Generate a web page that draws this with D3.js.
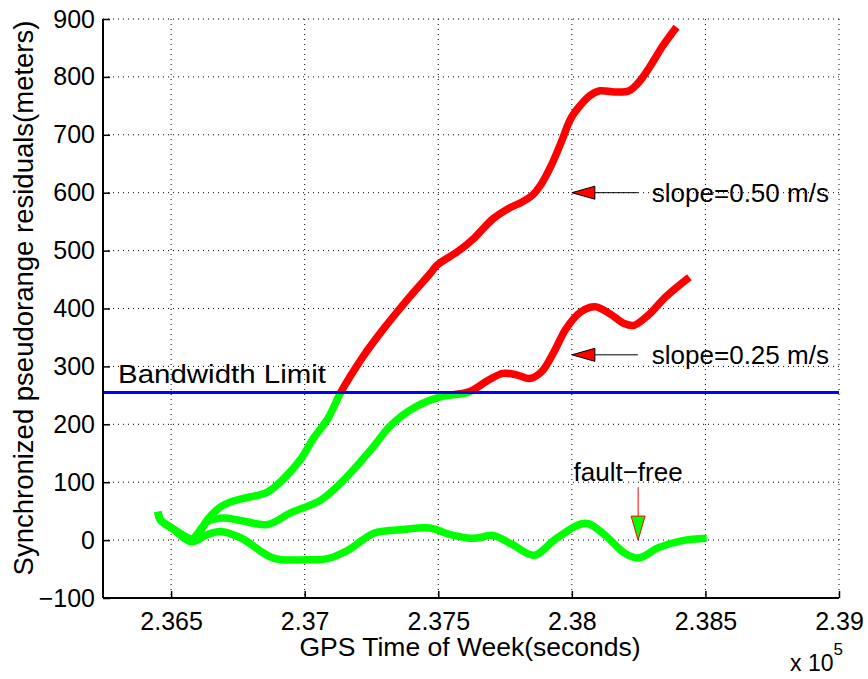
<!DOCTYPE html>
<html>
<head>
<meta charset="utf-8">
<script src="https://cdn.jsdelivr.net/npm/d3@7"></script>
<style>
  body { margin: 0; background: #fff; }
  svg text { font-family: "Liberation Sans", Arial, Helvetica, sans-serif; fill: #000; }
</style>
</head>
<body>
<div id="chart"></div>
<script>
// data (time in seconds of week, residual in meters)
var fastT = [236451, 236460, 236505, 236578, 236605, 236635, 236687, 236722, 236770, 236861, 236921, 236987, 237033, 237087, 237136, 237214, 237287, 237378, 237469, 237496, 237578, 237633, 237705, 237760, 237814, 237851, 237887, 237923, 237960, 237996, 238032, 238069, 238105, 238160, 238214, 238251, 238287, 238341, 238392];
var fastV = [49, 35, 20, 2, 12, 35, 58, 66, 72, 83, 106, 141, 176, 210, 256, 314, 360, 412, 460, 475, 500, 521, 555, 572, 584, 595, 616, 647, 687, 728, 751, 768, 776, 774, 776, 791, 814, 854, 886];

var slowT = [236451, 236460, 236505, 236578, 236600, 236635, 236695, 236760, 236861, 236947, 237060, 237147, 237251, 237324, 237414, 237505, 237614, 237687, 237742, 237796, 237842, 237887, 237933, 237978, 238033, 238087, 238142, 238196, 238233, 238287, 238351, 238440];
var slowV = [49, 35, 20, 2, 12, 32, 38, 34, 27, 47, 69, 104, 158, 199, 230, 247, 256, 276, 288, 285, 279, 291, 325, 365, 394, 403, 391, 374, 371, 389, 420, 454];

var freeT = [236451, 236460, 236505, 236575, 236633, 236684, 236760, 236883, 237011, 237086, 237160, 237259, 237360, 237469, 237542, 237633, 237705, 237778, 237860, 237942, 238051, 238123, 238196, 238251, 238324, 238414, 238505];
var freeV = [49, 35, 20, -3, 9, 15, 4, -31, -34, -32, -18, 12, 18, 21, 10, 3, 8, -8, -26, 3, 29, 9, -22, -31, -13, -1, 3];

var bandwidthLimit = 255;

var xTicks = [236500, 237000, 237500, 238000, 238500, 239000];
var yTicks = [-100, 0, 100, 200, 300, 400, 500, 600, 700, 800, 900];

// set the dimensions and margins of the graph
var margin = {top: 19, right: 29, bottom: 81, left: 103},
    width = 868 - margin.left - margin.right,
    height = 679 - margin.top - margin.bottom;

var svg = d3.select("#chart")
  .append("svg")
    .attr("width", 868)
    .attr("height", 679)
  .append("g")
    .attr("transform", "translate(" + margin.left + "," + margin.top + ")");

var x = d3.scaleLinear().domain([236245, 239000]).range([0, width]);
var y = d3.scaleLinear().domain([-100, 900]).range([height, 0]);

// dotted grid
svg.append("g")
  .selectAll("line")
  .data(xTicks)
  .enter().append("line")
    .attr("x1", function(d) { return x(d); })
    .attr("x2", function(d) { return x(d); })
    .attr("y1", 0).attr("y2", height)
    .attr("stroke", "#000").attr("stroke-width", 1)
    .attr("stroke-dasharray", "1,4");
svg.append("g")
  .selectAll("line")
  .data(yTicks)
  .enter().append("line")
    .attr("x1", 0).attr("x2", width)
    .attr("y1", function(d) { return y(d); })
    .attr("y2", function(d) { return y(d); })
    .attr("stroke", "#000").attr("stroke-width", 1)
    .attr("stroke-dasharray", "1,4");

// clip regions: red above the bandwidth limit, green below
var defs = svg.append("defs");
defs.append("clipPath").attr("id", "above")
  .append("rect").attr("x", -10).attr("y", -10)
  .attr("width", width + 20).attr("height", y(bandwidthLimit) + 10);
defs.append("clipPath").attr("id", "below")
  .append("rect").attr("x", -10).attr("y", y(bandwidthLimit))
  .attr("width", width + 20).attr("height", height - y(bandwidthLimit) + 10);

var line = d3.line()
  .x(function(d) { return x(d[0]); })
  .y(function(d) { return y(d[1]); })
  .curve(d3.curveCatmullRom);

var series = [d3.zip(freeT, freeV), d3.zip(slowT, slowV), d3.zip(fastT, fastV)];

series.forEach(function(s) {
  svg.append("path").datum(s)
    .attr("clip-path", "url(#below)")
    .attr("d", line)
    .attr("fill", "none").attr("stroke", "#00ff00")
    .attr("stroke-width", 7.5).attr("stroke-linejoin", "round");
  svg.append("path").datum(s)
    .attr("clip-path", "url(#above)")
    .attr("d", line)
    .attr("fill", "none").attr("stroke", "#ff0000")
    .attr("stroke-width", 7.5).attr("stroke-linejoin", "round");
});

// bandwidth limit line
svg.append("line")
  .attr("x1", 0).attr("x2", width)
  .attr("y1", y(bandwidthLimit)).attr("y2", y(bandwidthLimit))
  .attr("stroke", "#0000ff").attr("stroke-width", 3);

svg.append("text")
  .attr("x", 15).attr("y", y(bandwidthLimit) - 9)
  .style("font-size", "26px")
  .attr("textLength", 208).attr("lengthAdjust", "spacingAndGlyphs")
  .text("Bandwidth Limit");

// slope annotations
function slopeArrow(v, label) {
  var tx = x(238000), ty = y(v);
  svg.append("line")
    .attr("x1", tx + 22).attr("x2", tx + 66)
    .attr("y1", ty).attr("y2", ty)
    .attr("stroke", "#000").attr("stroke-width", 1);
  svg.append("path")
    .attr("d", "M" + tx + "," + ty + "L" + (tx + 23) + "," + (ty - 6.5) + "L" + (tx + 23) + "," + (ty + 6.5) + "Z")
    .attr("fill", "#ff0000").attr("stroke", "#000").attr("stroke-width", 1);
  svg.append("text")
    .attr("x", tx + 80).attr("y", ty + 9)
    .style("font-size", "26px")
    .text(label);
}
slopeArrow(600, "slope=0.50 m/s");
slopeArrow(320, "slope=0.25 m/s");

// fault-free annotation
var fx = x(238248), fy = y(0);
svg.append("line")
  .attr("x1", fx).attr("x2", fx)
  .attr("y1", fy - 53).attr("y2", fy - 24)
  .attr("stroke", "#ff0000").attr("stroke-width", 1);
svg.append("path")
  .attr("d", "M" + fx + "," + fy + "L" + (fx - 7) + "," + (fy - 24) + "L" + (fx + 7) + "," + (fy - 24) + "Z")
  .attr("fill", "#00ff00").attr("stroke", "#ff0000").attr("stroke-width", 1);
svg.append("text")
  .attr("x", fx - 10).attr("y", fy - 59)
  .attr("text-anchor", "middle")
  .style("font-size", "26px")
  .text("fault\u2212free");

// axes: left and bottom only, ticks pointing inward
var xAxis = d3.axisBottom(x)
  .tickValues(xTicks)
  .tickSize(-7)
  .tickPadding(14)
  .tickFormat(function(d) { return String(+(d / 1e5).toFixed(3)); });
var gx = svg.append("g")
  .attr("transform", "translate(0," + height + ")")
  .call(xAxis);

var yAxis = d3.axisLeft(y)
  .tickValues(yTicks)
  .tickSize(-7)
  .tickPadding(8)
  .tickFormat(function(d) { return d < 0 ? "\u2212" + Math.abs(d) : d; });
var gy = svg.append("g").call(yAxis);

[gx, gy].forEach(function(g) {
  g.select(".domain").attr("stroke", "#000").attr("stroke-width", 2);
  g.selectAll(".tick line").attr("stroke", "#000").attr("stroke-width", 1.5);
  g.selectAll(".tick text")
    .style("font-size", "25px")
    .style("font-family", "'Liberation Sans', Arial, sans-serif")
    .attr("fill", "#000");
});
gx.select(".domain").attr("d", "M0,0H" + width);
gy.select(".domain").attr("d", "M0,0V" + height);

// axis labels
svg.append("text")
  .attr("x", width / 2 - 1).attr("y", height + 58)
  .attr("text-anchor", "middle")
  .style("font-size", "26.5px")
  .text("GPS Time of Week(seconds)");

svg.append("text")
  .attr("transform", "rotate(-90)")
  .attr("x", -(298 - margin.top)).attr("y", -margin.left + 33)
  .attr("text-anchor", "middle")
  .style("font-size", "27.5px")
  .text("Synchronized pseudorange residuals(meters)");

var sci = svg.append("text")
  .attr("x", 790 - margin.left).attr("y", height + 73)
  .style("font-size", "23px");
sci.append("tspan").text("x 10");
sci.append("tspan").attr("dy", -16).style("font-size", "17px").text("5");
</script>
</body>
</html>
